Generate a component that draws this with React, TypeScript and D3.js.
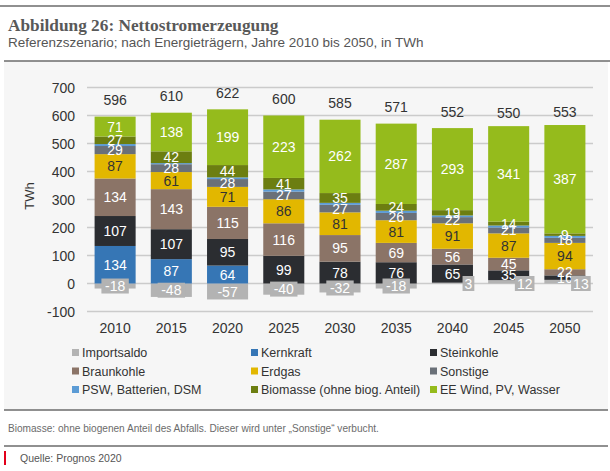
import React from "react";
import * as d3 from "d3";

const years = ["2010", "2015", "2020", "2025", "2030", "2035", "2040", "2045", "2050"];
const importsaldo = [-18, -48, -57, -40, -32, -18, 3, 12, 13];
const kernkraft = [134, 87, 64, 0, 0, 0, 0, 0, 0];
const steinkohle = [107, 107, 95, 99, 78, 76, 65, 35, 16];
const braunkohle = [134, 143, 115, 116, 95, 69, 56, 45, 22];
const erdgas = [87, 61, 71, 86, 81, 81, 91, 87, 94];
const sonstige = [29, 28, 28, 27, 27, 26, 22, 21, 18];
const psw = [7, 4, 6, 8, 7, 8, 6, 7, 7];
const biomasse = [27, 42, 44, 41, 35, 24, 19, 14, 9];
const eeWind = [71, 138, 199, 223, 262, 287, 293, 341, 387];
const totals = [596, 610, 622, 600, 585, 571, 552, 550, 553];
const yTicks = [-100, 0, 100, 200, 300, 400, 500, 600, 700];

const seriesNames = [
  "Importsaldo",
  "Kernkraft",
  "Steinkohle",
  "Braunkohle",
  "Erdgas",
  "Sonstige",
  "PSW, Batterien, DSM",
  "Biomasse (ohne biog. Anteil)",
  "EE Wind, PV, Wasser",
];
const seriesValues = [importsaldo, kernkraft, steinkohle, braunkohle, erdgas, sonstige, psw, biomasse, eeWind];
const seriesColors = ["#b3b3b3", "#3676b5", "#2b2d31", "#8b7467", "#e2b700", "#6a7078", "#5b9bd5", "#6c7e11", "#95bb1c"];
const seriesLabelColors = ["#ffffff", "#ffffff", "#ffffff", "#ffffff", "#333333", "#ffffff", "none", "#ffffff", "#ffffff"];

const FONT = "'Liberation Sans', Arial, sans-serif";

export default function App() {
  const W = 610;
  const H = 471;
  const x = d3.scaleBand<string>().domain(years).range([87, 593]).paddingInner(0.27).paddingOuter(0.135);
  const y = d3.scaleLinear().domain([-100, 700]).range([311.5, 87.5]);
  const bw = x.bandwidth();

  const segs: any[] = [];
  const importLabels: any[] = [];
  const totalLabels: any[] = [];
  years.forEach((yr, i) => {
    let base = 0;
    const x0 = x(yr) as number;
    seriesValues.forEach((vals, s) => {
      const v = vals[i];
      if (v === 0) return;
      if (s === 0 && v < 0) {
        segs.push({ key: `${yr}-${s}`, x: x0, y0: y(0), y1: y(v), color: seriesColors[s] });
        importLabels.push({ key: `il-${yr}`, cx: x0 + bw / 2, cy: (y(0) + y(v)) / 2, text: String(v) });
        return;
      }
      const lo = base;
      const hi = base + v;
      base = hi;
      segs.push({ key: `${yr}-${s}`, x: x0, y0: y(hi), y1: y(lo), color: seriesColors[s], s, v });
      if (s === 0) {
        importLabels.push({ key: `il-${yr}`, cx: x0 + bw / 2 + 16, cy: y(0), text: String(v) });
      }
    });
    totalLabels.push({ key: `t-${yr}`, cx: x0 + bw / 2, cy: y(totals[i]) - 16.5, text: String(totals[i]) });
  });

  const legendCols = [72, 251, 430];
  const legendRows = [352.5, 371, 389.5];

  return (
    <svg width={W} height={H} style={{ position: "absolute", left: 0, top: 0 }} fontFamily={FONT}>
      <rect x={0} y={0} width={W} height={H} fill="#ffffff" />
      <line x1={0} x2={610} y1={6} y2={6} stroke="#6b6b6b" strokeWidth={1.5} />
      <text x={8} y={31} fontFamily="'Liberation Serif', 'Times New Roman', serif" fontWeight="bold" fontSize={17.3} fill="#595959">
        Abbildung 26: Nettostromerzeugung
      </text>
      <text x={8} y={47} fontSize={13.5} fill="#555555">
        Referenzszenario; nach Energieträgern, Jahre 2010 bis 2050, in TWh
      </text>

      <rect x={4} y={61} width={604} height={349} fill="#f6f6f6" />
      <line x1={4} x2={610} y1={61} y2={61} stroke="#6b6b6b" strokeWidth={1.5} />
      <line x1={4} x2={608} y1={410} y2={410} stroke="#6b6b6b" strokeWidth={1.5} />

      {yTicks.map((t) => (
        <g key={`yt-${t}`}>
          <line x1={87} x2={593} y1={y(t)} y2={y(t)} stroke="#cbcbcb" strokeWidth={1.5} />
          <text x={75} y={y(t)} dy="0.36em" textAnchor="end" fontSize={14} fill="#333333">
            {t}
          </text>
        </g>
      ))}
      <text transform={`translate(34,196) rotate(-90)`} textAnchor="middle" fontSize={13} fill="#333333">
        TWh
      </text>

      {segs.map((d) => (
        <rect key={d.key} x={d.x} y={d.y0} width={bw} height={Math.max(0, d.y1 - d.y0)} fill={d.color} />
      ))}

      {segs
        .filter((d) => d.s !== undefined && d.s > 0 && seriesLabelColors[d.s] !== "none")
        .map((d) => (
          <text
            key={`l-${d.key}`}
            x={d.x + bw / 2}
            y={(d.y0 + d.y1) / 2}
            dy="0.36em"
            textAnchor="middle"
            fontSize={14}
            fill={seriesLabelColors[d.s]}
          >
            {d.v}
          </text>
        ))}

      {importLabels.map((d) => {
        const tw = d.text.length * 7.8 + 4;
        return (
          <g key={d.key}>
            <rect x={d.cx - tw / 2} y={d.cy - 7.5} width={tw} height={15} fill="#b3b3b3" />
            <text x={d.cx} y={d.cy} dy="0.36em" textAnchor="middle" fontSize={14} fill="#ffffff">
              {d.text}
            </text>
          </g>
        );
      })}

      {totalLabels.map((d) => (
        <text key={d.key} x={d.cx} y={d.cy} dy="0.36em" textAnchor="middle" fontSize={14} fill="#333333">
          {d.text}
        </text>
      ))}

      {years.map((yr) => (
        <text key={`xl-${yr}`} x={(x(yr) as number) + bw / 2} y={327.5} dy="0.36em" textAnchor="middle" fontSize={14} fill="#333333">
          {yr}
        </text>
      ))}

      {seriesNames.map((name, i) => {
        const cx = legendCols[i % 3];
        const cy = legendRows[Math.floor(i / 3)];
        return (
          <g key={`lg-${i}`}>
            <rect x={cx} y={cy - 3.5} width={7} height={7} fill={seriesColors[i]} />
            <text x={cx + 10} y={cy} dy="0.36em" fontSize={12.5} fill="#333333">
              {name}
            </text>
          </g>
        );
      })}

      <text x={8} y={428} dy="0.36em" fontSize={10.1} fill="#6b6b6b">
        Biomasse: ohne biogenen Anteil des Abfalls. Dieser wird unter „Sonstige“ verbucht.
      </text>
      <line x1={4} x2={608} y1={446} y2={446} stroke="#6b6b6b" strokeWidth={1.5} />
      <rect x={4} y={451} width={2} height={14} fill="#e2001a" />
      <text x={20} y={458} dy="0.36em" fontSize={10.5} fill="#555555">
        Quelle: Prognos 2020
      </text>
    </svg>
  );
}
